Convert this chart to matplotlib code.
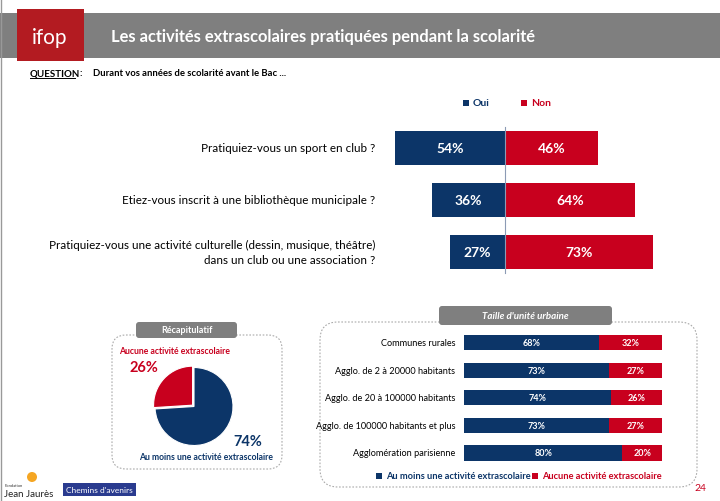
import matplotlib
matplotlib.use("Agg")
import matplotlib.pyplot as plt
from matplotlib.patches import Rectangle, FancyBboxPatch, Circle

plt.rcParams['font.family'] = ['Lato', 'DejaVu Sans']

NAVY = '#0c3568'
RED = '#c8001e'
GREY = '#7f7f7f'

# Questions principales (Oui / Non)
questions = ["Pratiquiez-vous un sport en club ?",
             "Etiez-vous inscrit à une bibliothèque municipale ?",
             "Pratiquiez-vous une activité culturelle (dessin, musique, théâtre)\ndans un club ou une association ?"]
oui = [54, 36, 27]
non = [46, 64, 73]

# Récapitulatif
recap_labels = ["Aucune activité extrascolaire", "Au moins une activité extrascolaire"]
recap_values = [26, 74]

# Taille d'unité urbaine
villes = ["Communes rurales", "Agglo. de 2 à 20000 habitants", "Agglo. de 20 à 100000 habitants",
          "Agglo. de 100000 habitants et plus", "Agglomération parisienne"]
au_moins = [68, 73, 74, 73, 80]
aucune = [32, 27, 26, 27, 20]

W, H = 720, 502
fig = plt.figure(figsize=(7.2, 5.02), dpi=100)

def box(x0, y0, x1, y1):
    # pixels (origine en haut a gauche) -> fraction de figure
    return [x0 / W, 1 - y1 / H, (x1 - x0) / W, (y1 - y0) / H]

# fond en pixels pour le decor
bg = fig.add_axes([0, 0, 1, 1])
bg.set_xlim(0, W)
bg.set_ylim(H, 0)
bg.axis('off')

bg.add_patch(Rectangle((0, 14), W, 45, color=GREY, lw=0))
bg.add_patch(Rectangle((17, 10), 67, 52, color='#b31b21', lw=0))
bg.text(50, 38, "ifop", color='white', fontsize=15, ha='center', va='center')
bg.text(111, 37, "Les activités extrascolaires pratiquées pendant la scolarité",
        color='white', fontsize=11.9, fontweight='bold', va='center')
bg.plot([1, 1], [0, H], color='#999999', lw=1)

bg.text(30, 74, "QUESTION", fontsize=7, fontweight='bold', va='center')
bg.plot([30, 75], [79, 79], color='black', lw=0.7)
bg.text(79, 74, ":", fontsize=7, fontweight='bold', va='center')
bg.text(93, 74, "Durant vos années de scolarité avant le Bac ...", fontsize=6.8,
        fontweight='bold', va='center')

# legende Oui / Non
bg.add_patch(Rectangle((463, 101), 6, 5.5, color=NAVY, lw=0))
bg.text(473, 103.5, "Oui", color=NAVY, fontsize=7.5, fontweight='bold', va='center')
bg.add_patch(Rectangle((521, 101), 6, 5.5, color=RED, lw=0))
bg.text(531, 103.5, "Non", color=RED, fontsize=7.5, fontweight='bold', va='center')

# cadres en pointilles
bg.add_patch(FancyBboxPatch((112, 336), 170, 134, boxstyle="round,pad=0,rounding_size=14",
                            fill=False, ec='#aaaaaa', lw=0.8, ls=(0, (1.5, 1.5))))
bg.add_patch(FancyBboxPatch((136, 323), 101, 16, boxstyle="round,pad=0,rounding_size=3",
                            fc=GREY, ec='none'))
bg.text(186.5, 331, "Récapitulatif", color='white', fontsize=6.5, fontweight='bold',
        ha='center', va='center')

bg.add_patch(FancyBboxPatch((320, 323), 377, 165, boxstyle="round,pad=0,rounding_size=18",
                            fill=False, ec='#aaaaaa', lw=0.8, ls=(0, (1.5, 1.5))))
bg.add_patch(FancyBboxPatch((439, 307), 173, 19, boxstyle="round,pad=0,rounding_size=3",
                            fc=GREY, ec='none'))
bg.text(525, 316.5, "Taille d'unité urbaine", color='white', fontsize=7, fontweight='bold',
        style='italic', ha='center', va='center')

# textes du camembert
bg.text(119, 352, recap_labels[0], color=RED, fontsize=6.2, fontweight='bold', va='center')
bg.text(130, 368, f"{recap_values[0]}%", color=RED, fontsize=10.5, fontweight='bold', va='center')
bg.text(233, 442, f"{recap_values[1]}%", color=NAVY, fontsize=10.5, fontweight='bold', va='center')
bg.text(139, 458, recap_labels[1], color=NAVY, fontsize=6.2, fontweight='bold', va='center')

# legende du bas
bg.add_patch(Rectangle((376, 474), 6, 6, color=NAVY, lw=0))
bg.text(386, 477, recap_labels[1], color=NAVY, fontsize=6.7, fontweight='bold', va='center')
bg.add_patch(Rectangle((532, 474), 6, 6, color=RED, lw=0))
bg.text(542, 477, recap_labels[0], color=RED, fontsize=6.7, fontweight='bold', va='center')

bg.text(700, 489, "24", color=RED, fontsize=7.5, ha='center', va='center')

# logos
bg.add_patch(Circle((32, 478), 5, color='#f5a623', lw=0))
bg.text(5, 486, "Fondation", fontsize=3, color='#333333', va='center')
bg.text(4, 495, "Jean Jaurès", fontsize=7, color='#222222', va='center')
bg.add_patch(Rectangle((63, 484), 73, 13, color='#2a3b8f', lw=0))
bg.text(99.5, 490.5, "Chemins d'avenirs", fontsize=6, color='white', ha='center', va='center')

# barres Oui / Non
scale = 2.03
cx = 505
ax = fig.add_axes(box(380, 123, 680, 279))
ax.set_xlim((380 - cx) / scale, (680 - cx) / scale)
ax.set_ylim(2.5, -0.5)
ax.axis('off')
ypos = list(range(len(questions)))
ax.barh(ypos, [-v for v in oui], height=0.65, color=NAVY)
ax.barh(ypos, non, height=0.65, color=RED)
ax.axvline(0, color='#8c9bb5', lw=0.8, ymin=0.03, ymax=0.97)
for i, q in enumerate(questions):
    ax.text(-oui[i] / 2, i, f"{oui[i]}%", color='white', fontsize=10, fontweight='bold',
            ha='center', va='center')
    ax.text(non[i] / 2, i, f"{non[i]}%", color='white', fontsize=10, fontweight='bold',
            ha='center', va='center')
    ax.text((375 - cx) / scale, i, q, fontsize=8.4, ha='right', va='center',
            multialignment='right', linespacing=1.4)

# camembert
r = 39
pa = fig.add_axes(box(194 - r * 1.1, 407.5 - r * 1.1, 194 + r * 1.1, 407.5 + r * 1.1))
pa.pie(recap_values, colors=[RED, NAVY], startangle=90, counterclock=True,
       explode=[0.05, 0], wedgeprops=dict(ec='white', lw=0.8))
pa.set_xlim(-1.1, 1.1)
pa.set_ylim(-1.1, 1.1)

# barres empilees
sa = fig.add_axes(box(464, 329.7, 662, 467.8))
sa.set_xlim(0, 100)
sa.set_ylim(4.5, -0.5)
sa.axis('off')
yy = list(range(len(villes)))
sa.barh(yy, au_moins, height=0.55, color=NAVY)
sa.barh(yy, aucune, left=au_moins, height=0.55, color=RED)
for i, v in enumerate(villes):
    sa.text(au_moins[i] / 2, i, f"{au_moins[i]}%", color='white', fontsize=6.5,
            fontweight='bold', ha='center', va='center')
    sa.text(au_moins[i] + aucune[i] / 2, i, f"{aucune[i]}%", color='white', fontsize=6.5,
            fontweight='bold', ha='center', va='center')
    sa.text(-4.5, i, v, fontsize=6.6, ha='right', va='center')

fig.savefig('out.png', dpi=100)
